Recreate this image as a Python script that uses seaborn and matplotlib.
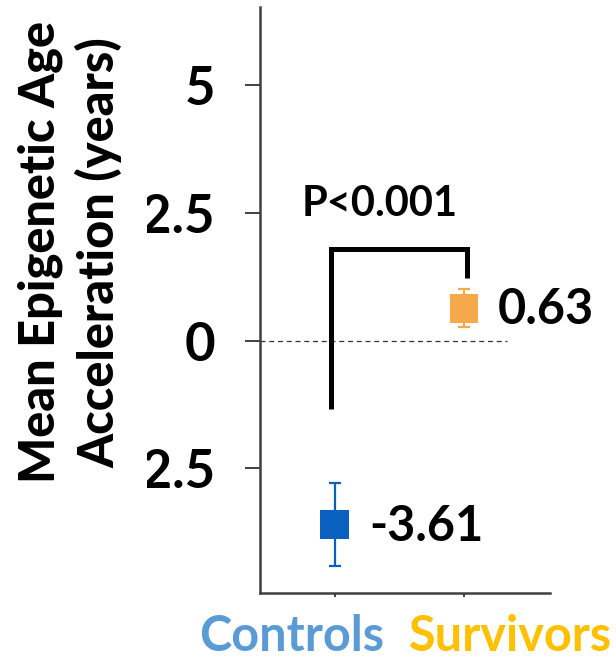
import matplotlib
matplotlib.use("Agg")
import matplotlib.pyplot as plt
import matplotlib.transforms as mtransforms
import pandas as pd
import seaborn as sns

# Group means and standard errors of epigenetic age acceleration (years)
groups = ["Controls", "Survivors"]
means = [-3.61, 0.63]
errors = [0.81, 0.37]
marker_colors = ["#0A60BE", "#F5A94B"]
label_colors = ["#5B9BD5", "#FFC000"]
y_ticks = [-2.5, 0, 2.5, 5]
y_tick_labels = ["-2.5", "0", "2.5", "5"]
p_text = "P<0.001"
y_label = "Mean Epigenetic Age\nAcceleration (years)"

sns.set_theme(style="ticks")
plt.rcParams["font.family"] = ["Lato", "DejaVu Sans"]
plt.rcParams["font.weight"] = "bold"

df = pd.DataFrame({"group": groups, "mean": means, "err": errors})

fig = plt.figure(figsize=(6.16, 6.62), dpi=100)
ax = fig.add_axes([0.422, 0.104, 0.471, 0.885])

sns.scatterplot(data=df, x="group", y="mean", hue="group", palette=marker_colors,
                marker="s", s=430, linewidth=0, legend=False, ax=ax, zorder=3)

for i, (m, e, c) in enumerate(zip(df["mean"], df["err"], marker_colors)):
    ax.errorbar(i, m, yerr=e, color=c, elinewidth=1.6, capsize=4.5, capthick=1.6,
                fmt="none", zorder=2)
    ax.annotate(f"{m:.2f}", xy=(i, m), xytext=(34, -16), textcoords="offset pixels",
                ha="left", va="baseline", fontsize=35, fontweight="bold", color="black")

# zero reference line
ax.axhline(0, xmin=0, xmax=0.85, color="#333333", lw=0.9, ls=(0, (4, 3)), zorder=1)

# significance bracket
ax.plot([-0.03, -0.03, 1.02, 1.02], [-1.34, 1.80, 1.80, 1.22], color="black",
        lw=3.6, solid_joinstyle="miter", solid_capstyle="butt", zorder=2)
ax.text(0.35, 2.45, p_text, ha="center", va="baseline", fontsize=30,
        fontweight="bold", color="black")

ax.set_xlim(-0.58, 1.667)
ax.set_ylim(-4.95, 6.53)

ax.set_yticks(y_ticks)
ax.set_yticklabels(y_tick_labels, fontsize=38, fontweight="bold", color="black")
ax.tick_params(axis="y", direction="out", length=10.8, width=1.4, pad=21.6,
               color="#404040")
ax.set_xticks([0, 1])
ax.set_xticklabels(groups, fontsize=35, fontweight="bold")
ax.tick_params(axis="x", direction="out", length=3, width=1.4, pad=12,
               color="#404040")
x_shifts = [-43, 47]
for lbl, col, dx in zip(ax.get_xticklabels(), label_colors, x_shifts):
    lbl.set_color(col)
    lbl.set_transform(lbl.get_transform() +
                      mtransforms.ScaledTranslation(dx / 100, 0, fig.dpi_scale_trans))

ax.set_xlabel("")
ax.set_ylabel(y_label, fontsize=35, fontweight=900, color="black",
              linespacing=1.33)
ax.yaxis.label.set(ha="center", va="center", rotation_mode="anchor")
ax.yaxis.label.set_bbox(dict(facecolor="white", edgecolor="none", pad=17.6))
ax.yaxis.set_label_coords((70 - 260) / 290, 1 - (252 - 7) / 586)

for side in ["top", "right"]:
    ax.spines[side].set_visible(False)
for side in ["left", "bottom"]:
    ax.spines[side].set_color("#404040")
    ax.spines[side].set_linewidth(1.8)

fig.savefig("out.png", dpi=100, facecolor="white")
